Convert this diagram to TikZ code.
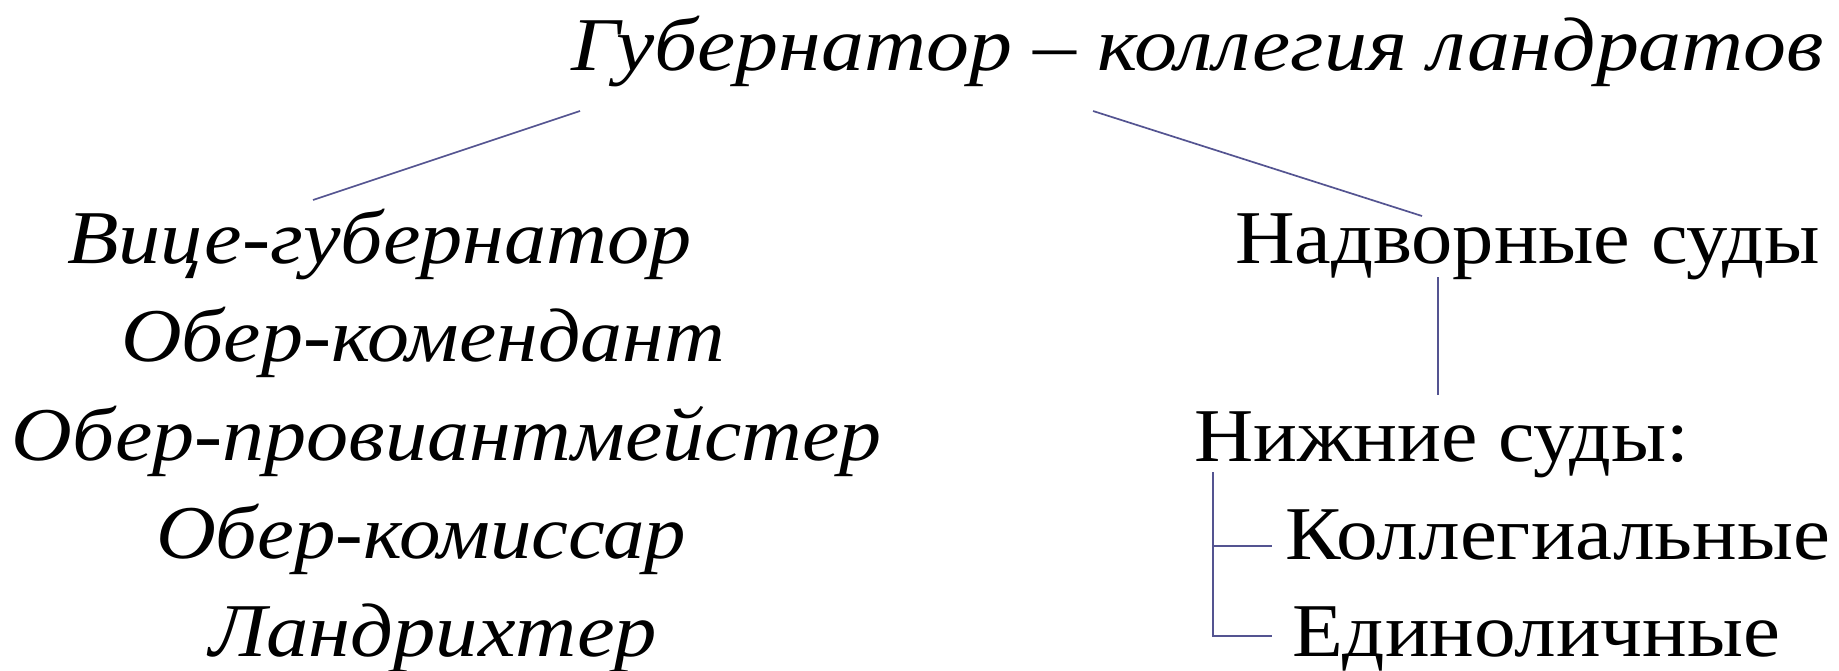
\documentclass[tikz,border=0pt]{standalone}
\usepackage{fontspec}
\usepackage{graphicx}
\setmainfont{Liberation Serif}
\definecolor{linkcol}{RGB}{84,84,145}
\newcommand{\fitw}[2]{\resizebox{#1pt}{\height}{#2}}
\tikzset{
  lbl/.style={anchor=base west, inner sep=0pt, outer sep=0pt, font=\fontsize{76}{82}\selectfont},
  ital/.style={lbl, font=\fontsize{76}{82}\selectfont\itshape},
  link/.style={draw=linkcol, line width=1.7pt}
}
\begin{document}
\begin{tikzpicture}[x=1pt,y=-1pt]
\useasboundingbox (0,0) rectangle (1839,670);
\fill[white] (0,0) rectangle (1839,670);
% nodes
\node[ital] (gov) at (571,70) {\fitw{1253}{Губернатор – коллегия ландратов}};
\node[ital] (vice) at (67,263) {\fitw{625}{Вице-губернатор}};
\node[ital] (kom) at (121,361) {\fitw{604}{Обер-комендант}};
\node[ital] (prov) at (12,460) {\fitw{870}{Обер-провиантмейстер}};
\node[ital] (komis) at (156,558) {\fitw{530}{Обер-комиссар}};
\node[ital] (land) at (209,656) {\fitw{448}{Ландрихтер}};
\node[lbl] (nadv) at (1235,263) {\fitw{585}{Надворные суды}};
\node[lbl] (nizh) at (1194,461) {\fitw{495}{Нижние суды:}};
\node[lbl] (koll) at (1285,559) {\fitw{545}{Коллегиальные}};
\node[lbl] (edin) at (1292,656) {\fitw{488}{Единоличные}};
% connector ends
\coordinate (g1) at (580,111);
\coordinate (v1) at (313,200);
\coordinate (g2) at (1093,111);
\coordinate (n1) at (1422,216);
\coordinate (n2) at (1438,277);
\coordinate (z1) at (1438,395);
\coordinate (b0) at (1213,472);
\coordinate (b1) at (1213,546);
\coordinate (b2) at (1213,636);
\coordinate (k1) at (1272,546);
\coordinate (e1) at (1272,636);
% connectors
\draw[link] (g1) -- (v1);
\draw[link] (g2) -- (n1);
\draw[link] (n2) -- (z1);
\draw[link] (b0) -- (b2) -- (e1);
\draw[link] (b1) -- (k1);
\end{tikzpicture}
\end{document}
